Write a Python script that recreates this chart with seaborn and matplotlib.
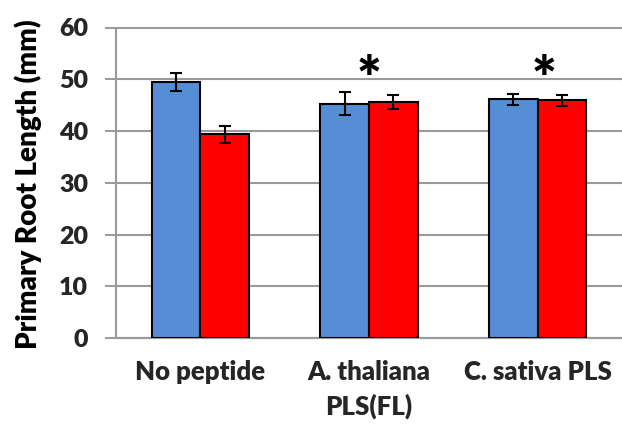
import matplotlib
matplotlib.use("Agg")
import matplotlib.pyplot as plt
import seaborn as sns
import pandas as pd

# ---- data ----
categories = ["No peptide", "A. thaliana\nPLS(FL)", "C. sativa PLS"]
series_names = ["Series A", "Series B"]
blue_values = [49.5, 45.3, 46.1]
red_values = [39.4, 45.6, 45.9]
blue_err = [1.8, 2.2, 1.1]
red_err = [1.65, 1.35, 1.15]
y_ticks = [0, 10, 20, 30, 40, 50, 60]
star_categories = ["A. thaliana\nPLS(FL)", "C. sativa PLS"]
star_level = 52.8

colors = ["#558ED5", "#FF0000"]
grid_col = "#9A9A9A"
W = "heavy"

sns.set_theme(style="white")
plt.rcParams["font.family"] = ["Lato", "DejaVu Sans"]
plt.rcParams["font.weight"] = W

df = pd.DataFrame({
    "category": categories * 2,
    "series": [series_names[0]] * 3 + [series_names[1]] * 3,
    "value": blue_values + red_values,
})

fig = plt.figure(figsize=(6.22, 4.26), dpi=100)
ax = fig.add_axes([116 / 622, 88 / 426, 506 / 622, 310.5 / 426])

sns.barplot(data=df, x="category", y="value", hue="series", order=categories,
            hue_order=series_names, palette=colors, width=0.576, gap=0,
            edgecolor="black", linewidth=1.5, errorbar=None, legend=False,
            saturation=1, ax=ax, zorder=3)

for cont, errs in zip(ax.containers, [blue_err, red_err]):
    xs = [p.get_x() + p.get_width() / 2 for p in cont]
    ys = [p.get_height() for p in cont]
    ax.errorbar(xs, ys, yerr=errs, fmt="none", ecolor="black", elinewidth=1.5,
                capsize=4.5, capthick=1.5, zorder=4)

star_offsets = [0.0, 0.04]
for cat, off in zip(star_categories, star_offsets):
    ax.annotate("*", xy=(categories.index(cat) + off, star_level),
                xytext=(0, -12), textcoords="offset points",
                ha="center", va="center", fontsize=42, fontweight=W, color="black")

ax.set_xlim(-0.5, 2.476)
ax.set_ylim(0, 60)
ax.set_yticks(y_ticks)
ax.set_yticklabels([str(t) for t in y_ticks], fontsize=18, fontweight=W)
ax.set_xticks(range(len(categories)))
ax.set_xticklabels(categories, fontsize=18.5, fontweight=W, linespacing=1.45)
ax.set_xticks([-0.5, 0.5, 1.5, 2.5], minor=True)
ax.tick_params(axis="x", which="major", length=0, pad=16)
ax.tick_params(axis="x", which="minor", length=7, width=1.4, color=grid_col, direction="out")
ax.tick_params(axis="y", which="major", length=8, width=1.4, color=grid_col, pad=12, left=True)

ax.yaxis.grid(True, color=grid_col, linewidth=1.5, zorder=0)
for g in ax.get_ygridlines():
    g.set_clip_on(False)
ax.set_axisbelow(True)
for s in ["top", "right"]:
    ax.spines[s].set_visible(False)
for s in ["left", "bottom"]:
    ax.spines[s].set_color(grid_col)
    ax.spines[s].set_linewidth(1.5)

ax.set_xlabel("")
ax.set_ylabel("Primary Root Length (mm)", fontsize=20, fontweight=W, color="black")
ax.yaxis.set_label_coords((42 - 116) / 506, (338 - 184) / 310.5)
ax.yaxis.label.set_va("bottom")

fig.savefig("out.png", dpi=100, facecolor="white")
